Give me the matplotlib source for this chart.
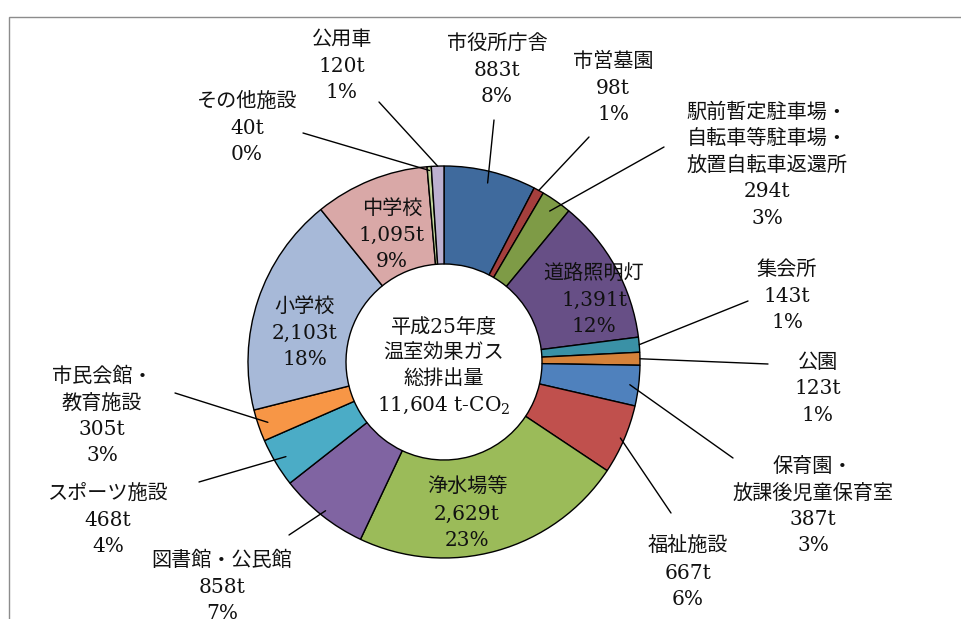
import matplotlib
matplotlib.use("Agg")
import matplotlib.pyplot as plt
from matplotlib.patches import Rectangle
import numpy as np

plt.rcParams['font.family'] = ['DejaVu Serif', 'Noto Sans CJK JP']
plt.rcParams['mathtext.fontset'] = 'dejavuserif'

# ---- data (clockwise from 12 o'clock) ----
categories = ["市役所庁舎", "市営墓園", "駅前暫定駐車場・\n自転車等駐車場・\n放置自転車返還所",
              "道路照明灯", "集会所", "公園", "保育園・\n放課後児童保育室", "福祉施設",
              "浄水場等", "図書館・公民館", "スポーツ施設", "市民会館・\n教育施設",
              "小学校", "中学校", "その他施設", "公用車"]
values = [883, 98, 294, 1391, 143, 123, 387, 667, 2629, 858, 468, 305, 2103, 1095, 40, 120]
percents = ["8%", "1%", "3%", "12%", "1%", "1%", "3%", "6%", "23%", "7%", "4%", "3%",
            "18%", "9%", "0%", "1%"]
colors = ["#3F6A9D", "#A43F3D", "#7E9B46", "#674F86", "#3A91A6", "#D5823A",
          "#4F81BD", "#C0504D", "#9BBB59", "#8064A2", "#4BACC6", "#F79646",
          "#A7B9D8", "#D9A8A7", "#C3D69B", "#BDB1D0"]
center_text = "平成25年度\n温室効果ガス\n総排出量\n11,604 t-CO$_2$"

# ---- layout ----
W, H = 961, 619
CX, CY, R = 444, 362, 196

fig = plt.figure(figsize=(W / 100, H / 100), dpi=100)
ax = fig.add_axes([(CX - R) / W, (H - CY - R) / H, 2 * R / W, 2 * R / H])

wedges, _ = ax.pie(values, colors=colors, startangle=90, counterclock=False, radius=1,
                   wedgeprops=dict(width=0.5, edgecolor='black', linewidth=1.0))
ax.set_xlim(-1, 1)
ax.set_ylim(-1, 1)
ax.axis('off')


def px(x, y):
    return ((x - CX) / R, (CY - y) / R)


# label centre (pixels), leader start (pixels) or None, leader radius on wedge
label_pos = {
    0: ((497, 70), (494, 120), 0.94),
    1: ((613, 88), (589, 137), 1.0),
    2: ((767, 165), (664, 147), 0.94),
    3: ((594, 300), None, None),
    4: ((787, 296), (748, 301), 1.0),
    5: ((818, 389), (768, 364), 1.0),
    6: ((813, 506), (733, 458), 0.955),
    7: ((688, 573), (671, 513), 0.98),
    8: ((467, 514), None, None),
    9: ((222, 587), (289, 535), 0.97),
    10: ((108, 520), (199, 482), 0.94),
    11: ((102, 416), (175, 393), 0.95),
    12: ((305, 333), None, None),
    13: ((392, 235), None, None),
    14: ((247, 128), (303, 133), 0.98),
    15: ((342, 66), (379, 102), 1.0),
}

txt_color = '#111111'
fs = 14.5
for i, (cat, v, p) in enumerate(zip(categories, values, percents)):
    (lx, ly), lead, rr = label_pos[i]
    label = f"{cat}\n{v:,}t\n{p}"
    tx, ty = px(lx, ly)
    ax.text(tx, ty, label, ha='center', va='center', fontsize=fs, color=txt_color,
            linespacing=1.5, multialignment='center')
    if lead is not None:
        w = wedges[i]
        mid = np.deg2rad((w.theta1 + w.theta2) / 2)
        ax.annotate("", xy=(rr * np.cos(mid), rr * np.sin(mid)), xytext=px(*lead),
                    arrowprops=dict(arrowstyle='-', color='black', lw=1.0,
                                    shrinkA=0, shrinkB=0))

ax.text(0, px(0, 367)[1], center_text, ha='center', va='center', fontsize=fs,
        color=txt_color, linespacing=1.42, multialignment='center')

fig.patches.append(Rectangle((9 / W, -0.1), 1.2, 1 - 17 / H + 0.1, transform=fig.transFigure,
                             fill=False, edgecolor='#8c8c8c', linewidth=1.0))

fig.savefig("out.png", dpi=100, facecolor='white')
